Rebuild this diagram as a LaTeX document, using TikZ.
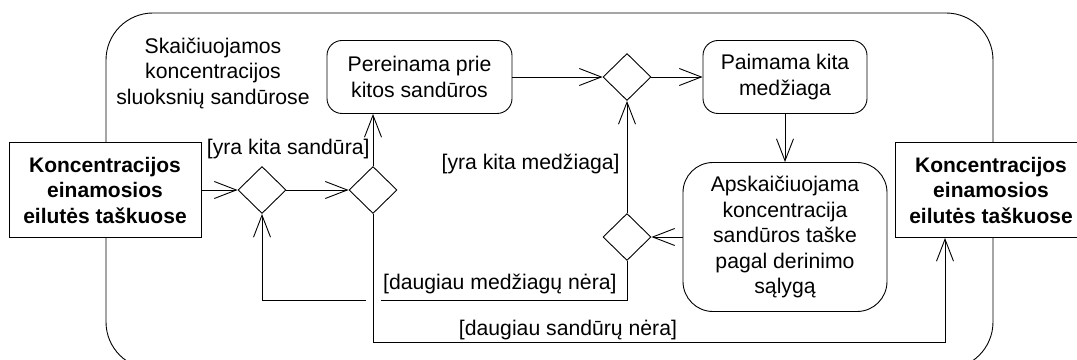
\documentclass[tikz,border=0pt]{standalone}
\usepackage{fontspec}
\setmainfont{Liberation Sans}
\usetikzlibrary{shapes.geometric,arrows.meta,calc}

\begin{document}
\begin{tikzpicture}[>={Straight Barb[length=22bp,width=17bp]},line width=0.9bp,
	every node/.style={font=\fontsize{21.2bp}{25.5bp}\selectfont,align=center},
	state/.style={draw,rounded corners=15bp,minimum width=185bp,minimum height=73bp,inner sep=2bp},
	object/.style={draw,fill=white,minimum width=192bp,minimum height=95bp,inner sep=2bp,
		font=\fontsize{21bp}{25.5bp}\selectfont\bfseries},
	decision/.style={draw,diamond,minimum width=48bp,minimum height=47bp,inner sep=0pt},
	guard/.style={inner sep=2bp}]
	\useasboundingbox (0bp,0bp) rectangle (1077bp,360bp);
	\clip (0bp,0bp) rectangle (1077bp,360bp);
	\draw[rounded corners=47bp] (106bp,-9bp) rectangle (993bp,347bp);

	\node (title) at (213bp,287bp) {Skaičiuojamos\\koncentracijos\\sluoksnių sandūrose};
	\node[object] (K1) at (105bp,170bp) {Koncentracijos\\einamosios\\eilutės taškuose};
	\node[object] (K2) at (991bp,170bp) {Koncentracijos\\einamosios\\eilutės taškuose};
	\node[state]  (P)  at (419.5bp,283bp) {Pereinama prie\\kitos sandūros};
	\node[state,minimum width=164bp] (M) at (785bp,283bp) {Paimama kita\\medžiaga};
	\node[state,rounded corners=30bp,minimum width=204bp,minimum height=149bp] (A) at (785bp,123bp)
		{Apskaičiuojama\\koncentracija\\sandūros taške\\pagal derinimo\\sąlygą};
	\node[decision] (D1) at (262bp,170bp) {};
	\node[decision] (D2) at (373bp,170bp) {};
	\node[decision] (D3) at (627bp,283bp) {};
	\node[decision] (D4) at (627bp,123bp) {};

	\draw[->] (K1) -- (D1);
	\draw[->] (D1) -- (D2);
	\draw[->] (D2.north) -- node[guard,left=1bp,pos=0.32] {[yra kita sandūra]} (D2.north |- P.south);
	\draw[->] (P) -- (D3);
	\draw[->] (D3) -- (M);
	\draw[->] (M) -- (A);
	\draw[->] (A) -- (D4);
	\draw[->] (D4) -- node[guard,left=5bp,pos=0.44] {[yra kita medžiaga]} (D3);
	\draw[->] (D4.south) -- ++(0bp,-40bp) coordinate (loopA) -| (D1.south);
	\node[guard,anchor=east] (noMed) at ($(loopA)+(-8bp,16.5bp)$) {[daugiau medžiagų nėra]};
	\fill[white] ($(D2 |- loopA)+(-7.5bp,-2bp)$) rectangle ($(D2 |- loopA)+(7.5bp,2bp)$);
	\draw[->] (D2.south) -- ++(0bp,-128.5bp) coordinate (loopB) -| ([xshift=-46bp]K2.south);
	\node[guard] (noSan) at (568bp,30bp) {[daugiau sandūrų nėra]};
\end{tikzpicture}
\end{document}
